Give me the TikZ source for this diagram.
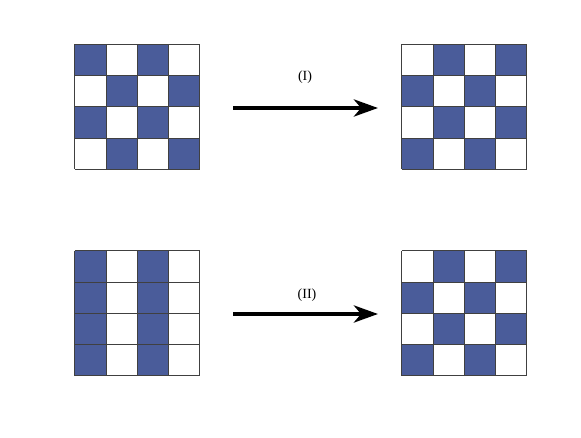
\documentclass[tikz,border=0pt]{standalone}
\usepackage{fontspec}
\setmainfont{Liberation Serif}
\usetikzlibrary{arrows.meta,calc}
\definecolor{cellblue}{HTML}{4A5C9A}
\tikzset{
  cell/.style={fill=cellblue},
  gridline/.style={draw=black!75, line width=0.8pt},
  bigarrow/.style={line width=4.6pt, -{Stealth[length=24pt,width=17pt,inset=7pt]}},
  steplabel/.style={font=\fontsize{14}{16}\selectfont, inner sep=0pt}
}
% #1 node name, #2 centre, #3 test (1 = blue) in \r (row from top) and \c (column)
\newcommand{\cellgrid}[3]{%
  \node[minimum size=125, inner sep=0pt, draw=none] (#1) at (#2) {};
  \foreach \r in {0,...,3}
    \foreach \c in {0,...,3} {
      \pgfmathtruncatemacro\isblue{#3}
      \ifnum\isblue=1
        \fill[cell] ($(#1.north west)+(\c*31.25,-\r*31.25-31.25)$) rectangle ++(31.25,31.25);
      \fi
    }
  \foreach \i in {0,...,4} {
    \draw[gridline] ($(#1.north west)+(\i*31.25,0)$) -- ++(0,-125);
    \draw[gridline] ($(#1.north west)+(0,-\i*31.25)$) -- ++(125,0);
  }
}
\begin{document}
\begin{tikzpicture}[x=1pt, y=1pt]
\useasboundingbox (0,0) rectangle (581,437);
% grids
\cellgrid{topleft}{137.5,330}{mod(\r+\c,2)==0}
\cellgrid{topright}{464.5,330}{mod(\r+\c,2)==1}
\cellgrid{botleft}{137.5,123.5}{mod(\c,2)==0}
\cellgrid{botright}{464.5,123.5}{mod(\r+\c,2)==1}
% arrows
\coordinate (a1s) at (233,329);
\coordinate (a1e) at (378,329);
\coordinate (a2s) at (233,123);
\coordinate (a2e) at (378,123);
\draw[bigarrow] (a1s) -- (a1e);
\draw[bigarrow] (a2s) -- (a2e);
\node[steplabel] (l1) at (305,360) {(I)};
\node[steplabel] (l2) at (307,142) {(II)};
\end{tikzpicture}
\end{document}
